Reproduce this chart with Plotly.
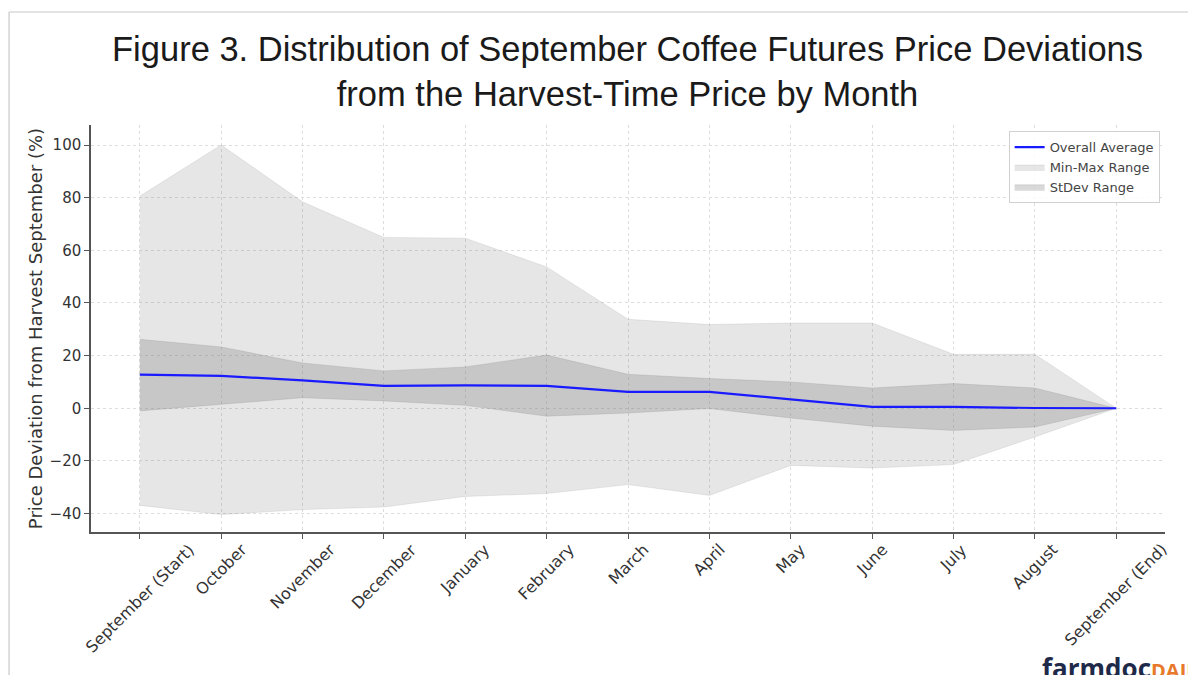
import plotly.graph_objects as go

months = ["September (Start)", "October", "November", "December", "January",
          "February", "March", "April", "May", "June", "July", "August",
          "September (End)"]
overall_avg = [12.8, 12.3, 10.6, 8.5, 8.7, 8.5, 6.2, 6.2, 3.4, 0.5, 0.5, 0.1, 0.0]
range_max = [80.6, 100.0, 78.4, 64.9, 64.6, 53.7, 33.8, 31.8, 32.4, 32.4, 20.5, 20.5, 0.0]
range_min = [-36.9, -40.4, -38.5, -37.5, -33.5, -32.4, -29.0, -33.1, -21.7, -22.7, -21.4, -10.9, 0.0]
std_upper = [26.2, 23.3, 17.2, 14.2, 15.7, 20.2, 12.9, 11.3, 10.0, 7.7, 9.4, 7.7, 0.0]
std_lower = [-1.0, 1.5, 4.0, 2.8, 1.1, -3.0, -1.8, -0.1, -3.7, -6.8, -8.4, -7.1, 0.0]
y_ticks = [-40, -20, 0, 20, 40, 60, 80, 100]

TICKFONT = dict(family="DejaVu Sans", size=15, color="#333333")
XTICKFONT = dict(family="DejaVu Sans", size=16, color="#333333")

fig = go.Figure()
fig.add_trace(go.Scatter(x=months, y=range_max, mode="lines",
                         line=dict(width=0.6, color="rgba(128,128,128,0.25)"),
                         showlegend=False, hoverinfo="skip"))
fig.add_trace(go.Scatter(x=months, y=range_min, mode="lines", fill="tonexty",
                         fillcolor="rgba(128,128,128,0.2)",
                         line=dict(width=0.6, color="rgba(128,128,128,0.25)"),
                         name="Min-Max Range", legendrank=2))
fig.add_trace(go.Scatter(x=months, y=std_upper, mode="lines",
                         line=dict(width=0.6, color="rgba(128,128,128,0.35)"),
                         showlegend=False, hoverinfo="skip"))
fig.add_trace(go.Scatter(x=months, y=std_lower, mode="lines", fill="tonexty",
                         fillcolor="rgba(128,128,128,0.3)",
                         line=dict(width=0.6, color="rgba(128,128,128,0.35)"),
                         name="StDev Range", legendrank=3))
fig.add_trace(go.Scatter(x=months, y=overall_avg, mode="lines",
                         line=dict(width=2.2, color="#1a1aff"),
                         name="Overall Average", legendrank=1))

fig.update_layout(
    width=1188, height=667,
    paper_bgcolor="white", plot_bgcolor="white",
    margin=dict(l=83, r=31, t=117, b=143),
    title=dict(text="Figure 3. Distribution of September Coffee Futures Price Deviations<br>from the Harvest-Time Price by Month",
               x=0.5215, xanchor="center", y=1 - 53 / 667, yanchor="top", yref="container",
               font=dict(family="Liberation Sans, Arial", size=34.5, color="#1a1a1a")),
    legend=dict(x=0.995, xanchor="right", y=0.985, yanchor="top", traceorder="normal",
                bgcolor="rgba(255,255,255,0.85)", bordercolor="#d0d0d0", borderwidth=1,
                font=dict(family="DejaVu Sans", size=13, color="#444")),
    showlegend=True,
)
fig.update_xaxes(type="category", range=[-0.6, 12.6], showticklabels=False,
                 showgrid=True, gridcolor="#dddddd", griddash="dot", gridwidth=1,
                 showline=True, linecolor="#555555", linewidth=1.5,
                 ticks="outside", ticklen=5, tickcolor="#555555", zeroline=False)
fig.update_yaxes(range=[-47, 107.6], tickvals=y_ticks,
                 showgrid=True, gridcolor="#dddddd", griddash="dot", gridwidth=1,
                 showline=True, linecolor="#555555", linewidth=1.5,
                 ticks="outside", ticklen=5, tickcolor="#555555",
                 tickfont=TICKFONT, zeroline=False,
                 title=dict(text="Price Deviation from Harvest September (%)",
                            font=dict(family="DejaVu Sans", size=18, color="#333333"),
                            standoff=2))

# x tick labels, centred under each tick like the original
for m in months:
    fig.add_annotation(x=m, xref="x", y=-0.013, yref="paper", text=m, textangle=-45,
                       xanchor="center", yanchor="top", showarrow=False, font=XTICKFONT)

# image frame
fig.add_shape(type="line", xref="paper", yref="paper", x0=-0.0763, x1=1.2, y0=1.2776, y1=1.2776,
              line=dict(color="#c8c8c8", width=1.2))
fig.add_shape(type="line", xref="paper", yref="paper", x0=-0.0763, x1=-0.0763, y0=1.2776, y1=-0.5,
              line=dict(color="#c8c8c8", width=1.2))

# watermark
fig.add_annotation(xref="paper", yref="paper", x=0.8836, y=-0.335, xanchor="left", yanchor="middle",
                   showarrow=False,
                   text="<b><span style='color:#1f2a4a'>farmdoc</span><span style='color:#e8792b;font-size:20px'>DAILY</span></b>",
                   font=dict(family="Open Sans", size=26, color="#1f2a4a"))

fig.write_html("out.html")
